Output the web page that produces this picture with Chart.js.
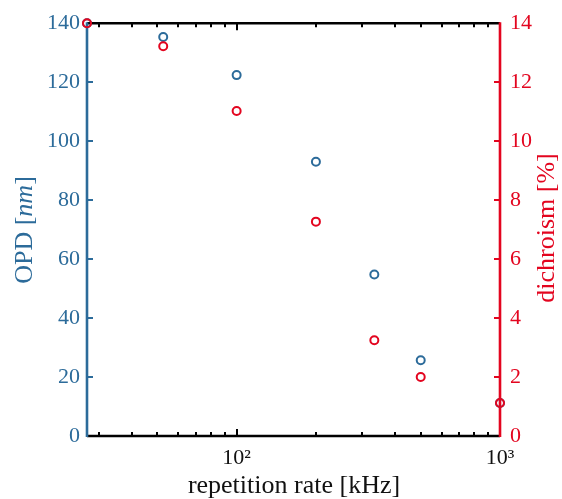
<!DOCTYPE html>
<html>
<head>
<meta charset="utf-8">
<script src="https://cdn.jsdelivr.net/npm/chart.js@4/dist/chart.umd.min.js"></script>
<style>
  html, body { margin: 0; padding: 0; background: #fff; }
  #wrap { width: 562px; height: 499px; }
</style>
</head>
<body>
<div id="wrap"><canvas id="c" width="562" height="499"></canvas></div>
<script>
// repetition rate in kHz (1000 / divider)
const repRate = [27.03, 52.63, 100, 200, 333.3, 500, 1000];
const opd = [140, 135.3, 122.4, 93, 54.8, 25.7, 11.2];          // nm
const dichroism = [14, 13.22, 11.02, 7.27, 3.25, 2.0, 1.12];    // %
const xTicks = [100, 1000];
const xMinor = [30, 40, 50, 60, 70, 80, 90, 200, 300, 400, 500, 600, 700, 800, 900];

const blue = '#2c6b9a';
const red = '#e3051f';
const serif = '"Liberation Serif", "DejaVu Serif", serif';

function toPoints(xs, ys) {
    return xs.map((x, i) => ({ x: x, y: ys[i] }));
}

// inward ticks, matlab style, drawn from the scales
const tickPlugin = {
    id: 'inwardTicks',
    beforeDatasetsDraw(chart) {
        const ctx = chart.ctx;
        const a = chart.chartArea;
        const x = chart.scales.x, y = chart.scales.y, y1 = chart.scales.y1;
        ctx.save();
        ctx.lineWidth = 2;
        ctx.strokeStyle = '#000';
        xTicks.concat(xMinor).forEach(v => {
            const px = Math.round(x.getPixelForValue(v));
            const len = xTicks.includes(v) ? 7 : 4;
            ctx.beginPath();
            ctx.moveTo(px, a.bottom); ctx.lineTo(px, a.bottom - len);
            ctx.moveTo(px, a.top); ctx.lineTo(px, a.top + len);
            ctx.stroke();
        });
        ctx.strokeStyle = blue;
        y.ticks.forEach(t => {
            const py = Math.round(y.getPixelForValue(t.value));
            ctx.beginPath(); ctx.moveTo(a.left, py); ctx.lineTo(a.left + 6, py); ctx.stroke();
        });
        ctx.strokeStyle = red;
        y1.ticks.forEach(t => {
            const py = Math.round(y1.getPixelForValue(t.value));
            ctx.beginPath(); ctx.moveTo(a.right, py); ctx.lineTo(a.right - 6, py); ctx.stroke();
        });
        // axis lines
        ctx.lineWidth = 2.6;
        ctx.strokeStyle = '#000';
        ctx.beginPath();
        ctx.moveTo(a.left, a.top); ctx.lineTo(a.right, a.top);
        ctx.moveTo(a.left, a.bottom); ctx.lineTo(a.right, a.bottom);
        ctx.stroke();
        ctx.strokeStyle = blue;
        ctx.beginPath(); ctx.moveTo(a.left, a.top - 1); ctx.lineTo(a.left, a.bottom + 1); ctx.stroke();
        ctx.strokeStyle = red;
        ctx.beginPath(); ctx.moveTo(a.right, a.top - 1); ctx.lineTo(a.right, a.bottom + 1); ctx.stroke();
        ctx.restore();
    },
    afterDraw(chart) {
        const ctx = chart.ctx;
        const a = chart.chartArea;
        ctx.save();
        ctx.textBaseline = 'middle';
        // x title
        ctx.fillStyle = '#111';
        ctx.font = '26px ' + serif;
        ctx.textAlign = 'center';
        ctx.fillText('repetition rate [kHz]', 294, 486);
        // rotated titles, left one with italic unit
        const drawRotated = (cx, cy, parts, color) => {
            ctx.save();
            ctx.translate(cx, cy);
            ctx.rotate(-Math.PI / 2);
            ctx.fillStyle = color;
            ctx.textAlign = 'left';
            let total = 0;
            parts.forEach(p => { ctx.font = p[1]; total += ctx.measureText(p[0]).width; });
            let pos = -total / 2;
            parts.forEach(p => {
                ctx.font = p[1];
                ctx.fillText(p[0], pos, 0);
                pos += ctx.measureText(p[0]).width;
            });
            ctx.restore();
        };
        drawRotated(25, 230, [
            ['OPD [', '26px ' + serif],
            ['nm', 'italic 26px ' + serif],
            [']', '26px ' + serif]
        ], blue);
        drawRotated(547, 228, [['dichroism [%]', '26px ' + serif]], red);
        ctx.restore();
    }
};

const ctx = document.getElementById('c').getContext('2d');
new Chart(ctx, {
    type: 'scatter',
    data: {
        datasets: [
            {
                label: 'OPD',
                data: toPoints(repRate, opd),
                yAxisID: 'y',
                order: 2,
                borderColor: blue,
                backgroundColor: 'rgba(0,0,0,0)',
                pointRadius: 4,
                pointBorderWidth: 2,
                clip: false
            },
            {
                label: 'dichroism',
                data: toPoints(repRate, dichroism),
                yAxisID: 'y1',
                order: 1,
                borderColor: red,
                backgroundColor: 'rgba(0,0,0,0)',
                pointRadius: 4,
                pointBorderWidth: 2,
                clip: false
            }
        ]
    },
    options: {
        responsive: false,
        animation: false,
        layout: { padding: { top: 22, left: 0, right: 0, bottom: 0 } },
        plugins: { legend: { display: false }, tooltip: { enabled: false } },
        scales: {
            x: {
                type: 'logarithmic',
                min: 27.03,
                max: 1000,
                grid: { display: false, drawTicks: false },
                border: { display: false },
                afterBuildTicks: (s) => { s.ticks = xTicks.map(v => ({ value: v })); },
                afterFit: (s) => { s.height = 63; },
                ticks: {
                    color: '#111',
                    font: { family: serif, size: 22 },
                    padding: 9,
                    maxRotation: 0,
                    callback: (v) => v === 100 ? '10²' : (v === 1000 ? '10³' : '')
                }
            },
            y: {
                position: 'left',
                min: 0,
                max: 140,
                grid: { display: false, drawTicks: false },
                border: { display: false },
                afterFit: (s) => { s.width = 87; },
                ticks: {
                    stepSize: 20,
                    color: blue,
                    font: { family: serif, size: 22 },
                    padding: 7
                }
            },
            y1: {
                position: 'right',
                min: 0,
                max: 14,
                grid: { display: false, drawTicks: false },
                border: { display: false },
                afterFit: (s) => { s.width = 62; },
                ticks: {
                    stepSize: 2,
                    color: red,
                    font: { family: serif, size: 22 },
                    padding: 10
                }
            }
        }
    },
    plugins: [tickPlugin]
});
</script>
</body>
</html>
